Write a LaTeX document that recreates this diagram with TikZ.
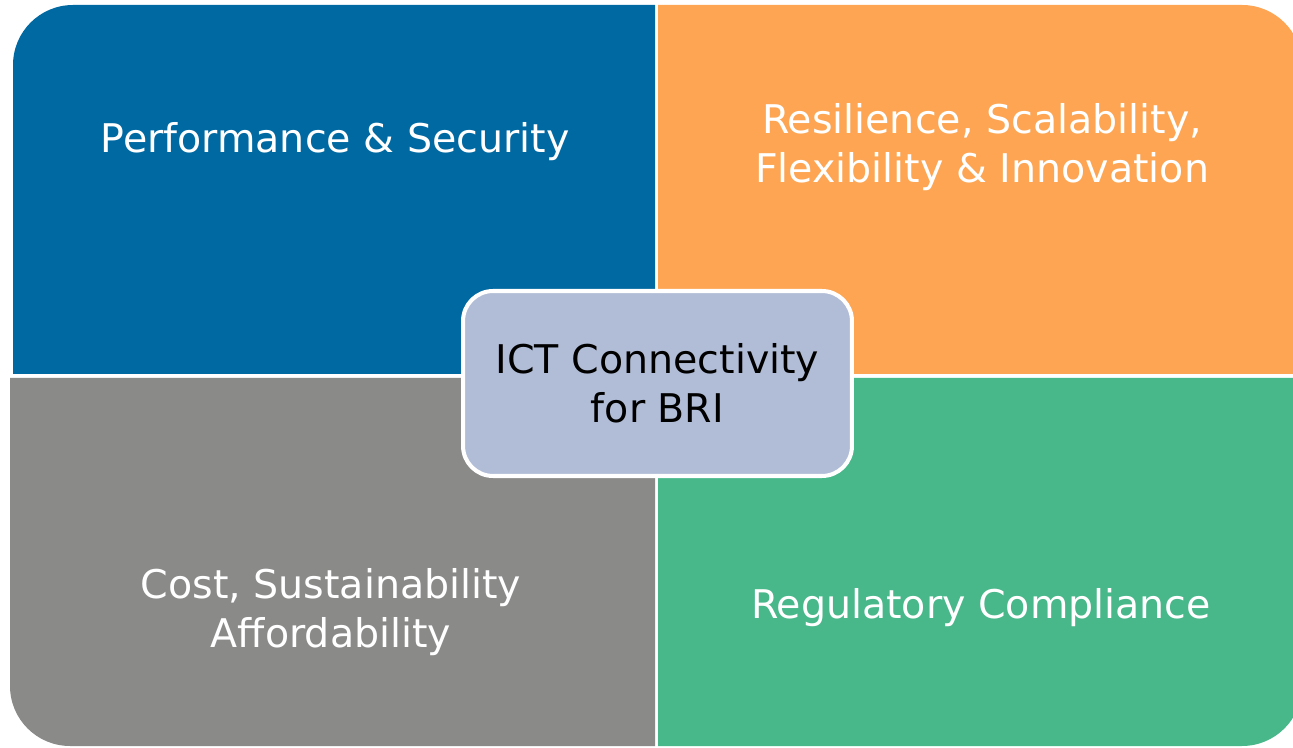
\documentclass[tikz,border=0pt]{standalone}
\usepackage{fontspec}
\setmainfont{DejaVu Sans}
\definecolor{perfblue}{RGB}{0,105,162}
\definecolor{resorange}{RGB}{253,165,82}
\definecolor{costgray}{RGB}{138,139,137}
\definecolor{reggreen}{RGB}{72,183,138}
\definecolor{hubfill}{RGB}{177,189,214}
\begin{document}
\begin{tikzpicture}[x=0.02cm, y=0.02cm,
    quadtext/.style={text=white, inner sep=0pt, align=center,
        font=\fontsize{22.5pt}{27.8pt}\selectfont},
    hub/.style={draw=white, line width=2.3pt, fill=hubfill, rounded corners=0.6cm,
        minimum width=7.78cm, minimum height=3.7cm, align=center, inner sep=0pt,
        font=\fontsize{22.5pt}{27.8pt}\selectfont}
]
\useasboundingbox (0,0) rectangle (1293,747);
\clip (0,0) rectangle (1293,747);
\fill[perfblue] (655,373) -- (13,373) -- (13,682)
    arc[start angle=180, end angle=90, radius=60] -- (655,742) -- cycle;
\fill[resorange] (658,373) -- (658,742) -- (1242,742)
    arc[start angle=90, end angle=0, radius=60] -- (1302,373) -- cycle;
\fill[costgray] (655,369) -- (10,369) -- (10,61)
    arc[start angle=180, end angle=270, radius=60] -- (655,1) -- cycle;
\fill[reggreen] (658,369) -- (1302,369) -- (1302,61)
    arc[start angle=0, end angle=-90, radius=60] -- (658,1) -- cycle;
\node[quadtext, anchor=base] (perf) at (335,594) {Performance \& Security};
\node[quadtext] (resil) at (982,600) {Resilience, Scalability,\\Flexibility \& Innovation};
\node[quadtext] (cost) at (331,135) {Cost, Sustainability\\Affordability};
\node[quadtext, anchor=base] (regul) at (981,129) {Regulatory Compliance};
\node[hub] (ict) at (657.5,363.5) {ICT Connectivity\\for BRI};
\end{tikzpicture}
\end{document}
